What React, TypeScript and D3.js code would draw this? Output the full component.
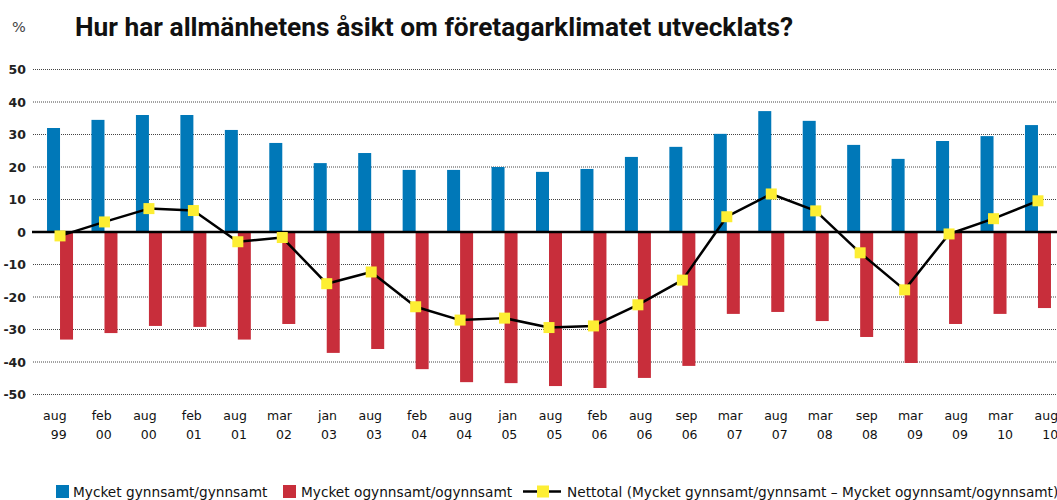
import React from "react";
import * as d3 from "d3";

const categories = [
  "aug 99", "feb 00", "aug 00", "feb 01", "aug 01", "mar 02", "jan 03", "aug 03",
  "feb 04", "aug 04", "jan 05", "aug 05", "feb 06", "aug 06", "sep 06", "mar 07",
  "aug 07", "mar 08", "sep 08", "mar 09", "aug 09", "mar 10", "aug 10",
];
const favourable = [32.0, 34.5, 36.0, 36.0, 31.4, 27.4, 21.2, 24.3, 19.1, 19.1, 20.0, 18.5, 19.4, 23.1, 26.2, 30.2, 37.2, 34.2, 26.8, 22.5, 28.0, 29.5, 32.9];
const unfavourable = [-33.1, -31.1, -28.9, -29.2, -33.1, -28.3, -37.2, -36.0, -42.2, -46.2, -46.5, -47.4, -48.0, -44.9, -41.2, -25.2, -24.6, -27.4, -32.3, -40.3, -28.3, -25.2, -23.4];
const net = [-1.2, 3.1, 7.2, 6.6, -3.0, -1.7, -15.9, -12.3, -23.0, -27.1, -26.5, -29.4, -28.9, -22.4, -14.8, 4.7, 11.7, 6.5, -6.4, -17.8, -0.6, 4.1, 9.6];
const yTicks = [50, 40, 30, 20, 10, 0, -10, -20, -30, -40, -50];

const title = "Hur har allmänhetens åsikt om företagarklimatet utvecklats?";
const legendLabels = [
  "Mycket gynnsamt/gynnsamt",
  "Mycket ogynnsamt/ogynnsamt",
  "Nettotal (Mycket gynnsamt/gynnsamt – Mycket ogynnsamt/ogynnsamt)",
];

const BLUE = "#0078b8";
const RED = "#c82e3b";
const YELLOW = "#fdee33";
const FONT = "'DejaVu Sans', sans-serif";

export default function App() {
  const W = 1057, H = 500;
  const x = d3.scaleBand<string>().domain(categories).range([37.8, 1060.2]).padding(0);
  const xl = d3.scalePoint<string>().domain(categories).range([66.6, 1058.1]);
  const y = d3.scaleLinear().domain([-50, 50]).range([394.5, 69.5]);
  const barW = 13;
  const cx = (c: string) => (x(c) as number) + x.bandwidth() / 2;

  const line = d3
    .line<number>()
    .x((_, i) => cx(categories[i]))
    .y((d) => y(d));

  return (
    <svg width={W} height={H} style={{ position: "absolute", left: 0, top: 0, background: "#fff" }}>
      <text x={12} y={32} fontFamily={FONT} fontSize={14.5} fill="#444">%</text>
      <text
        x={75}
        y={36}
        fontFamily="'Roboto', 'Liberation Sans', sans-serif"
        fontWeight="bold"
        fontSize={26}
        fill="#111"
        textLength={718}
        lengthAdjust="spacingAndGlyphs"
      >
        {title}
      </text>

      {yTicks.map((t) => (
        <g key={t}>
          {t !== 0 && (
            <line x1={33} x2={W} y1={y(t)} y2={y(t)} stroke="#444" strokeWidth={1} strokeDasharray="1 1" />
          )}
          <text x={26} y={y(t)} dy="0.36em" textAnchor="end" fontFamily={FONT} fontWeight="bold" fontSize={12.5} fill="#222">
            {t}
          </text>
        </g>
      ))}

      {categories.map((c, i) => (
        <g key={c}>
          <rect x={cx(c) - barW} y={y(favourable[i])} width={barW} height={y(0) - y(favourable[i])} fill={BLUE} />
          <rect x={cx(c)} y={y(0)} width={barW} height={y(unfavourable[i]) - y(0)} fill={RED} />
        </g>
      ))}

      <line x1={32} x2={W} y1={y(0)} y2={y(0)} stroke="#000" strokeWidth={2.5} />

      <path d={line(net) || ""} fill="none" stroke="#000" strokeWidth={2.5} strokeLinejoin="round" />
      {net.map((v, i) => (
        <rect key={i} x={cx(categories[i]) - 5.5} y={y(v) - 5.5} width={11} height={11} fill={YELLOW} />
      ))}

      {categories.map((c) => {
        const [m, yr] = c.split(" ");
        return (
          <text key={c} textAnchor="end" fontFamily={FONT} fontSize={12.5} fill="#111">
            <tspan x={xl(c)} y={420}>{m}</tspan>
            <tspan x={xl(c)} y={439}>{yr}</tspan>
          </text>
        );
      })}

      <g fontFamily={FONT} fontSize={13.7} fill="#111">
        <rect x={56} y={485} width={13} height={13} fill={BLUE} />
        <text x={73} y={497}>{legendLabels[0]}</text>
        <rect x={283} y={485} width={13} height={13} fill={RED} />
        <text x={301} y={497}>{legendLabels[1]}</text>
        <line x1={523} x2={561} y1={491.5} y2={491.5} stroke="#000" strokeWidth={2.5} />
        <rect x={537} y={485.5} width={12} height={12} fill={YELLOW} />
        <text x={567} y={497}>{legendLabels[2]}</text>
      </g>
    </svg>
  );
}
